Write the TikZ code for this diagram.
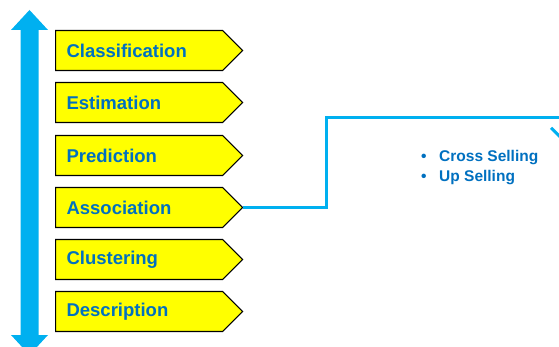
\documentclass[tikz,border=0pt]{standalone}
\usepackage{fontspec}
\setmainfont{Liberation Sans}
\usepackage{xcolor}
\usepackage{tikz}
\usetikzlibrary{arrows.meta,shapes.symbols}

\definecolor{taskblue}{HTML}{0070C0}
\definecolor{linkcyan}{HTML}{00B0F0}
\definecolor{taskyellow}{HTML}{FFFF00}

\begin{document}
\begin{tikzpicture}[x=1pt, y=-1pt,
  task/.style={signal, signal to=east, signal pointer angle=90, draw=black,
    line width=1.1pt, fill=taskyellow, anchor=west, minimum height=40pt,
    text width=145pt, inner xsep=11pt, align=left, text=taskblue,
    font=\fontsize{18.5}{20}\selectfont\bfseries},
  link/.style={draw=linkcyan, line width=3pt}]
\useasboundingbox (0,0) rectangle (559,347);

% Up/down arrow along the list
\fill[linkcyan] (29.5,10) -- (48,30) -- (38.5,30) -- (38.5,335) -- (48,335)
  -- (29.5,355) -- (11,335) -- (20.5,335) -- (20.5,30) -- (11,30) -- cycle;

% Task boxes
\node[task] (classif) at (55,50.5) {Classification};
\node[task] (estim) at (55,102.5) {Estimation};
\node[task] (predict) at (55,155.5) {Prediction};
\node[task] (assoc) at (55,207.5) {Association};
\node[task] (cluster) at (55,259.5) {Clustering};
\node[task] (descr) at (55,311.5) {Description};

% Link from Association to its uses
\coordinate (step1) at (326,207.5);
\coordinate (step2) at (561,118);
\coordinate (uses) at (561,140);
\draw[link, -{Straight Barb[length=10pt, width=20pt]}] (assoc.east) -- (step1)
  |- (step2) -- (uses);

\node[anchor=west, align=left, text=taskblue, inner sep=0pt,
  font=\fontsize{15.5}{20}\selectfont\bfseries] (sales) at (421,168)
  {\makebox[18pt][l]{\textbullet}Cross Selling\\
   \makebox[18pt][l]{\textbullet}Up Selling};
\end{tikzpicture}
\end{document}
